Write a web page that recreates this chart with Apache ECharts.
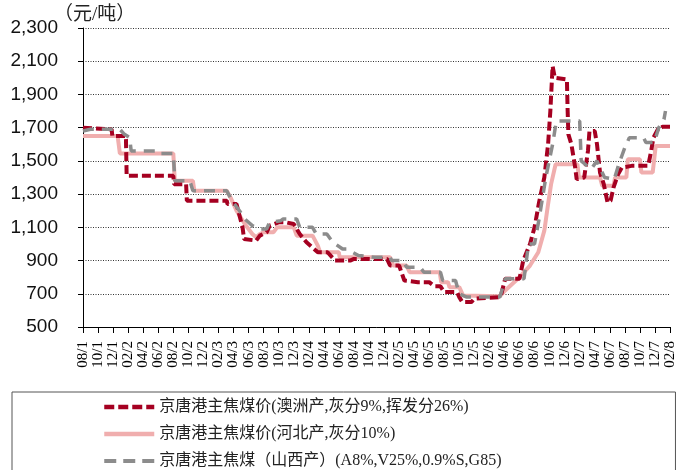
<!DOCTYPE html>
<html>
<head>
<meta charset="utf-8">
<script src="https://cdn.jsdelivr.net/npm/echarts@6/dist/echarts.min.js"></script>
<style>
  html, body { margin: 0; padding: 0; background: #fff; }
  #chart { width: 686px; height: 470px; }
</style>
</head>
<body>
<div id="chart"></div>
<script>
// 横轴：每两个月一个刻度（月份序号从 2011年8月 起算）
const tickLabels = [
  '08/1', '10/1', '12/1',
  '02/2', '04/2', '06/2', '08/2', '10/2', '12/2',
  '02/3', '04/3', '06/3', '08/3', '10/3', '12/3',
  '02/4', '04/4', '06/4', '08/4', '10/4', '12/4',
  '02/5', '04/5', '06/5', '08/5', '10/5', '12/5',
  '02/6', '04/6', '06/6', '08/6', '10/6', '12/6',
  '02/7', '04/7', '06/7', '08/7', '10/7', '12/7',
  '02/8',
];

const seriesNames = [
  '京唐港主焦煤价(澳洲产,灰分9%,挥发分26%)',
  '京唐港主焦煤价(河北产,灰分10%)',
  '京唐港主焦煤（山西产）(A8%,V25%,0.9%S,G85)',
];

// [月份序号, 元/吨]
const ausPrice = [
  [0, 1700], [3.8, 1690], [3.9, 1650], [5.7, 1650], [5.8, 1410], [12, 1410],
  [12.1, 1360], [13.7, 1360], [13.8, 1260], [19.1, 1260], [19.2, 1240], [20.4, 1240],
  [21.2, 1100], [21.4, 1030], [23, 1020], [23.5, 1050], [24.4, 1070], [24.8, 1110],
  [26, 1130], [27, 1130], [28, 1120], [28.8, 1060], [29.7, 1010], [31.2, 950],
  [32.5, 950], [33.5, 900], [35.5, 900], [36, 910], [40.4, 910], [40.8, 870],
  [42, 870], [42.7, 780], [44.5, 770], [46, 770], [46.7, 745], [47.5, 745],
  [48, 710], [49.7, 710], [50, 680], [50.4, 650], [51.6, 650], [52, 670],
  [55.3, 680], [55.6, 700], [56.1, 790], [58, 790], [58.5, 900], [59.4, 1000],
  [60, 1100], [60.6, 1250], [61.3, 1400], [61.8, 1600], [62.1, 1800], [62.4, 2070],
  [62.7, 2000], [64.3, 1990], [64.4, 1800], [64.5, 1660], [64.9, 1600], [65.4, 1460],
  [65.6, 1390], [66.6, 1400], [67.1, 1560], [67.3, 1680], [68, 1680], [68.3, 1600],
  [68.7, 1430], [69.2, 1360], [69.7, 1250], [70.1, 1260], [70.5, 1340], [71.1, 1420],
  [71.6, 1460], [72.9, 1470], [75.1, 1470], [75.5, 1560], [75.8, 1640], [76.4, 1690],
  [77, 1705], [78, 1705],
];

const hebeiPrice = [
  [0, 1650], [4.6, 1650], [4.9, 1545], [12, 1545], [12.2, 1380], [14.6, 1380],
  [14.8, 1320], [19.1, 1320], [19.6, 1280], [20.4, 1200], [21.5, 1120], [22.5, 1060],
  [23, 1040], [23.5, 1060], [24, 1070], [25.3, 1070], [25.8, 1100], [28, 1100],
  [28.4, 1050], [30.5, 1050], [31.2, 990], [31.5, 950], [34, 950], [34.1, 920],
  [40.8, 920], [41.2, 870], [43, 870], [43.4, 830], [47.4, 830], [47.6, 770],
  [48.5, 770], [48.7, 740], [50, 740], [50.5, 690], [55.4, 685], [56.1, 720],
  [58, 800], [59.4, 870], [60.5, 950], [61.3, 1080], [61.8, 1240], [62.2, 1360],
  [62.8, 1480], [65.7, 1480], [65.9, 1400], [68.7, 1400], [69, 1350], [70.5, 1350],
  [70.7, 1400], [72.2, 1400], [72.4, 1510], [74, 1510], [74.2, 1430], [75.7, 1430],
  [76.1, 1590], [78, 1590],
];

const shanxiPrice = [
  [0, 1680], [1, 1690], [4.9, 1690], [5.5, 1660], [6.2, 1640], [6.4, 1560],
  [9.8, 1560], [10, 1545], [12, 1545], [12.2, 1380], [14.2, 1380], [14.6, 1320],
  [19.1, 1320], [19.8, 1260], [20.8, 1200], [21.5, 1150], [22.5, 1110], [23.5, 1090],
  [24.4, 1090], [24.8, 1130], [26.3, 1140], [26.6, 1150], [28.4, 1150], [28.8, 1100],
  [30.5, 1100], [31, 1060], [32.4, 1060], [33.2, 1010], [34.5, 970], [35, 970],
  [36.6, 930], [38.8, 920], [40.8, 920], [41, 900], [42.5, 900], [43, 860],
  [44.8, 860], [45.3, 830], [47.5, 830], [47.8, 780], [49.5, 780], [50, 700],
  [51, 680], [55.4, 680], [56.1, 790], [58.6, 790], [59.2, 1000], [60, 1000],
  [60.6, 1150], [61.5, 1400], [62.4, 1600], [62.9, 1740], [66, 1740], [66.2, 1500],
  [67.5, 1450], [68.3, 1500], [69.3, 1400], [70.6, 1390], [71.2, 1480], [72, 1580],
  [72.6, 1640], [74.5, 1640], [74.8, 1610], [75.9, 1610], [76.5, 1700], [77.2, 1750],
  [77.4, 1800],
];

const chart = echarts.init(document.getElementById('chart'));

const serifFont = '"Liberation Serif", "Noto Sans CJK SC", serif';

chart.setOption({
  backgroundColor: '#fff',
  animation: false,
  title: {
    text: '（元/吨）',
    left: 54,
    top: 6,
    padding: 0,
    textStyle: { fontFamily: serifFont, fontSize: 19, fontWeight: 'normal', color: '#222' },
  },
  grid: { left: 83, right: 16, top: 28, bottom: 143 },
  xAxis: {
    type: 'value',
    min: 0,
    max: 78,
    interval: 2,
    axisLine: { lineStyle: { color: '#000', width: 1 } },
    axisTick: { show: true, length: 6, lineStyle: { color: '#000' } },
    splitLine: { show: false },
    axisLabel: {
      rotate: 90,
      margin: 14,
      fontSize: 15,
      fontFamily: '"Liberation Serif", serif',
      color: '#000',
      formatter: (v) => tickLabels[Math.round(v / 2)] || '',
    },
  },
  yAxis: {
    type: 'value',
    min: 500,
    max: 2300,
    interval: 200,
    axisLine: { show: true, lineStyle: { color: '#000' } },
    axisTick: { show: true, length: 5, lineStyle: { color: '#000' } },
    splitLine: { lineStyle: { color: '#333', type: [1, 1.5], width: 1 } },
    axisLabel: {
      margin: 25,
      fontSize: 19,
      fontFamily: '"Liberation Sans Narrow", "Arial Narrow", "Liberation Sans", sans-serif',
      color: '#111',
      formatter: (v) => v.toLocaleString('en-US'),
    },
  },
  legend: {
    orient: 'vertical',
    left: 12,
    top: 392,
    height: 200,
    padding: [7, 174, 12, 90],
    itemGap: 11,
    itemWidth: 50,
    itemHeight: 16,
    itemStyle: { opacity: 0 },
    borderColor: '#555',
    borderWidth: 1,
    backgroundColor: '#fff',
    z: 10,
    textStyle: { fontFamily: serifFont, fontSize: 16, color: '#222' },
    data: [
      { name: seriesNames[0], lineStyle: { width: 4.5, type: [10, 4] } },
      { name: seriesNames[1], lineStyle: { width: 4.5 } },
      { name: seriesNames[2], lineStyle: { width: 4, type: [12, 7] } },
    ],
  },
  series: [
    {
      name: seriesNames[0],
      type: 'line',
      data: ausPrice,
      showSymbol: false,
      symbol: 'none',
      z: 3,
      lineStyle: { color: '#A50021', width: 4, type: [9, 4] },
      itemStyle: { color: '#A50021' },
    },
    {
      name: seriesNames[1],
      type: 'line',
      data: hebeiPrice,
      showSymbol: false,
      symbol: 'none',
      z: 2,
      lineStyle: { color: '#F0AEAE', width: 4 },
      itemStyle: { color: '#F0AEAE' },
    },
    {
      name: seriesNames[2],
      type: 'line',
      data: shanxiPrice,
      showSymbol: false,
      symbol: 'none',
      z: 4,
      lineStyle: { color: '#8C8C8C', width: 3.5, type: [11, 8] },
      itemStyle: { color: '#8C8C8C' },
    },
  ],
});
</script>
</body>
</html>
